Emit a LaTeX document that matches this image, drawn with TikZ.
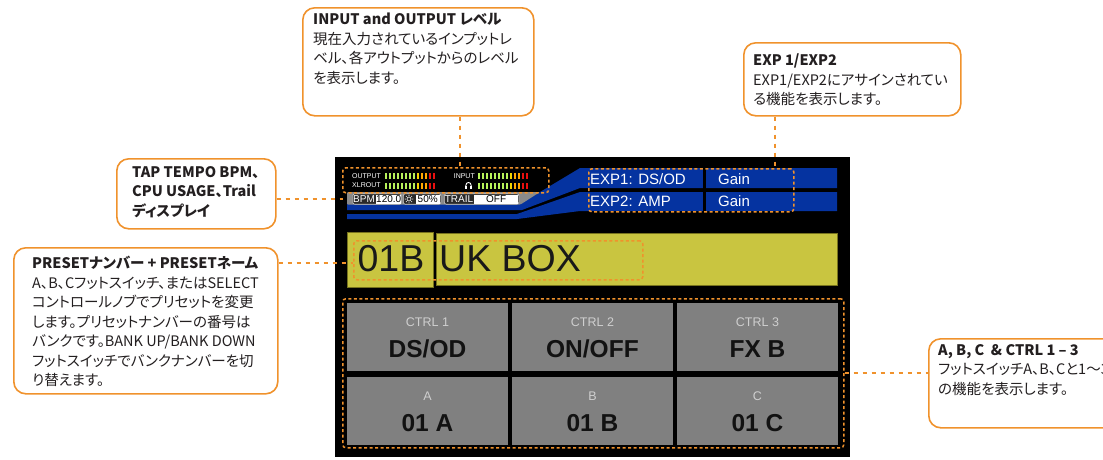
\documentclass[tikz,border=0pt]{standalone}
\usepackage{fontspec}
\setmainfont{Liberation Sans}
\newfontfamily\cjk{Noto Sans CJK JP}[RawFeature={+palt}]
\usetikzlibrary{calc}
\definecolor{org}{HTML}{F0922C}
\definecolor{scrblue}{HTML}{0533A0}
\definecolor{lcd}{HTML}{C9C540}
\definecolor{lcdedge}{HTML}{77731E}
\definecolor{cellgrey}{HTML}{808080}
\definecolor{lblgrey}{HTML}{CFCFCF}
\definecolor{mg}{HTML}{B8F25A}
\definecolor{my}{HTML}{F2D400}
\definecolor{mo}{HTML}{FFA800}
\definecolor{mr}{HTML}{E81010}
\definecolor{band}{HTML}{8A8A8A}
\definecolor{txt}{HTML}{231F20}
\definecolor{darkbox}{HTML}{2A2A2A}
\begin{document}
\begin{tikzpicture}[x=1pt,y=-1pt,
  callout/.style={draw=org, line width=1.6pt, rounded corners=12pt, fill=white, inner sep=0pt, anchor=north west},
  calltext/.style={anchor=north west, inner sep=0pt, align=left, text=txt, font=\cjk\fontsize{14.5}{19.5}\selectfont},
  lead/.style={draw=org, line width=1.8pt, dash pattern=on 4pt off 5pt},
  hl/.style={draw=org, line width=1.5pt, dash pattern=on 3pt off 2.5pt, rounded corners=3pt, anchor=north west, inner sep=0pt},
  cell/.style={fill=cellgrey, anchor=north west, inner sep=0pt, minimum width=160.5pt, minimum height=68pt},
  clbl/.style={text=lblgrey, font=\fontsize{12.5}{12.5}\selectfont, inner sep=0pt},
  cval/.style={text=black!93, font=\bfseries\fontsize{24.5}{24.5}\selectfont, inner sep=0pt},
  exptext/.style={text=white, font=\fontsize{15}{15}\selectfont, anchor=west, inner sep=0pt},
  mtext/.style={text=white, font=\fontsize{7}{7}\selectfont, inner sep=0pt},
  lcdpanel/.style={fill=lcd, draw=lcdedge, line width=0.8pt, anchor=north west, inner sep=0pt},
  lcdtext/.style={text=black!90, font=\fontsize{37.5}{37.5}\selectfont, inner sep=0pt},
  darklab/.style={fill=darkbox, draw=white!80!black, line width=0.6pt, rounded corners=2pt, anchor=west, inner sep=0pt, minimum height=10.5pt},
  whitelab/.style={fill=white, anchor=west, inner sep=0pt, minimum height=9pt, text=black, font=\fontsize{10}{10}\selectfont},
  smalltext/.style={text=white, font=\fontsize{10}{10}\selectfont, inner sep=0pt}
]
\useasboundingbox (0,0) rectangle (1103,459);
\clip (0,0) rectangle (1103,459);

% ---------- screen ----------
\node[fill=black, anchor=north west, inner sep=0pt, minimum width=515pt, minimum height=300pt] (screen) at (335,157) {};

% blue bands
\fill[scrblue] (347,204) -- (520,204) -- (580,168) -- (837,168) -- (837,188) -- (580,188) -- (522,210) -- (347,210) -- cycle;
\fill[scrblue] (347,214) -- (517,214) -- (580,192) -- (837,192) -- (837,211) -- (580,211) -- (517,219) -- (347,219) -- cycle;
\fill[black] (703,166) rectangle (705.5,213);
% grey band
\fill[band, rounded corners=1pt] (347,192) -- (540,192) -- (520.5,204.5) -- (347,204.5) -- cycle;

% meters
\node[mtext, anchor=west] (outl) at (352,176) {OUTPUT};
\node[mtext, anchor=west] (xlrl) at (352,185) {XLROUT};
\node[mtext, anchor=east] (inl) at (475,176) {INPUT};
\foreach \i/\c in {0/mg,1/mg,2/mg,3/mg,4/mg,5/mg,6/mg,7/mg,8/my,9/mo,10/mo,11/mr,12/mr} {
  \fill[\c] (385+4*\i,173) rectangle ++(2.4,6);
  \fill[\c] (385+4*\i,182.5) rectangle ++(2.4,6);
  \fill[\c] (478+4*\i,173) rectangle ++(2.4,6);
  \fill[\c] (478+4*\i,182.5) rectangle ++(2.4,6);
}
% headphone icon
\draw[white, line width=0.9pt] (465.8,188) -- (465.8,185.5) .. controls (465.8,181.5) and (471.2,181.5) .. (471.2,185.5) -- (471.2,188);
\fill[white] (465,185.5) rectangle (467,188.5);
\fill[white] (470,185.5) rectangle (472,188.5);

% BPM row
\node[darklab, minimum width=48.5pt] (bpmbox) at (352.5,199) {};
\node[whitelab, minimum width=24pt] (bpmval) at (376,199) {120.0};
\node[smalltext] (bpmlbl) at (364,199) {BPM};
\node[darklab, minimum width=37.5pt] (cpubox) at (403,199) {};
\node[whitelab, minimum width=24pt] (cpuval) at (415.5,199) {50\%};
\draw[white, line width=0.6pt] (409,199) circle (2pt);
\foreach \a in {0,45,...,315} { \fill[white] ($(409,199)+(\a:3.8)$) circle (0.55pt); }
\node[darklab, minimum width=74.5pt] (trailbox) at (444,199) {};
\node[whitelab, minimum width=44pt] (trailval) at (474,199) {OFF};
\node[smalltext] (traillbl) at (459,199) {TRAIL};

% EXP texts
\node[exptext] (e1) at (590,179) {EXP1: DS/OD};
\node[exptext] (g1) at (718,179) {Gain};
\node[exptext] (e2) at (590,201.5) {EXP2: AMP};
\node[exptext] (g2) at (718,201.5) {Gain};

% LCD
\node[lcdpanel, minimum width=86pt, minimum height=55pt] (pnum) at (347,232) {};
\node[lcdpanel, minimum width=401pt, minimum height=52pt] (pname) at (436,233) {};
\node[lcdtext] (pnumt) at (391,258.5) {01B};
\node[lcdtext, anchor=west] (pnamet) at (439,258.5) {UK BOX};

% grid cells
\node[cell] (k1) at (347,303) {};
\node[cell] (k2) at (512,303) {};
\node[cell] (k3) at (677,303) {};
\node[cell] (fa) at (347,377) {};
\node[cell] (fb) at (512,377) {};
\node[cell] (fc) at (677,377) {};
\foreach \n/\l/\v in {k1/CTRL 1/DS\slash OD, k2/CTRL 2/ON\slash OFF, k3/CTRL 3/FX B, fa/A/01 A, fb/B/01 B, fc/C/01 C} {
  \node[clbl] (\n l) at ($(\n.center)+(0,-15)$) {\l};
  \node[cval] (\n v) at ($(\n.center)+(0,12)$) {\v};
}

% highlight boxes
\node[hl, minimum width=206pt, minimum height=25pt] (hmeter) at (342,167) {};
\node[hl, minimum width=205pt, minimum height=43pt] (hexp) at (588,168) {};
\node[hl, minimum width=289pt, minimum height=39pt] (hname) at (353,240) {};
\node[hl, minimum width=501pt, minimum height=149pt] (hgrid) at (342,298) {};

% ---------- callouts ----------
\node[callout, minimum width=231pt, minimum height=108pt] (c1) at (302,7) {};
\node[calltext] (t1) at (313,13) {\textbf{INPUT and OUTPUT レベル}\\現在入力されているインプットレ\\ベル、各アウトプットからのレベル\\を表示します。};

\node[callout, minimum width=217pt, minimum height=73pt] (c2) at (743,42) {};
\node[calltext] (t2) at (753,54) {\textbf{EXP 1/EXP2}\\EXP1/EXP2にアサインされてい\\る機能を表示します。};

\node[callout, minimum width=159pt, minimum height=70pt] (c3) at (116,158) {};
\node[calltext] (t3) at (132,166) {\textbf{TAP TEMPO BPM、}\\\textbf{CPU USAGE、Trail}\\\textbf{ディスプレイ}};

\node[callout, minimum width=264pt, minimum height=146pt] (c4) at (13,247) {};
\node[calltext] (t4) at (32,256) {\textbf{PRESETナンバー + PRESETネーム}\\A、B、Cフットスイッチ、またはSELECT\\コントロールノブでプリセットを変更\\します。プリセットナンバーの番号は\\バンクです。BANK UP/BANK DOWN\\フットスイッチでバンクナンバーを切\\り替えます。};

\node[callout, minimum width=190pt, minimum height=89pt] (c5) at (928,338) {};
\node[calltext] (t5) at (938,344) {\textbf{A, B, C \ \& CTRL 1 – 3}\\フットスイッチA、B、Cと1〜3\\の機能を表示します。};

% ---------- leaders ----------
\coordinate (x1) at (460,0);
\coordinate (x2) at (775,0);
\coordinate (tapend) at (343,199);
\coordinate (yl) at (0,263);
\coordinate (yc) at (0,373);
\draw[lead] (c1.south -| x1) -- (hmeter.north -| x1);
\draw[lead] (c2.south -| x2) -- (hexp.north -| x2);
\draw[lead] (c3.east |- tapend) -- (tapend);
\draw[lead] (c4.east |- yl) -- (hname.west |- yl);
\draw[lead] (hgrid.east |- yc) -- (c5.west |- yc);
\end{tikzpicture}
\end{document}
